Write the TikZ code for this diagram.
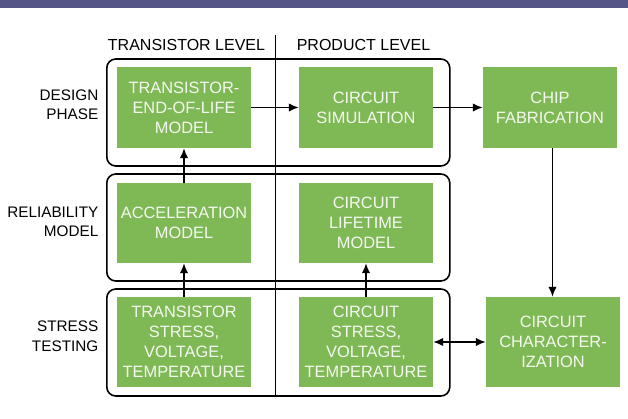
\documentclass[tikz,border=0pt]{standalone}
\usepackage{fontspec}
\setmainfont{Liberation Sans}
\usetikzlibrary{arrows.meta}
\definecolor{band}{RGB}{83,86,135}
\definecolor{boxgreen}{RGB}{127,185,86}
\definecolor{boxtext}{RGB}{245,248,240}
\tikzset{
  greenbox/.style={fill=boxgreen, draw=none, minimum width=134pt, text width=132pt, align=center, inner sep=0pt, text=boxtext, font=\fontsize{16.4}{20}\selectfont},
  groupbox/.style={draw=black, line width=1.6pt, rounded corners=9pt, minimum width=343pt, minimum height=107pt, inner sep=0pt},
  rowlabel/.style={anchor=east, align=right, font=\fontsize{15.3}{19.5}\selectfont, inner sep=0pt},
  header/.style={font=\fontsize{16}{19}\selectfont, inner sep=0pt},
  arr/.style={line width=1.6pt, -{Latex[length=10pt,width=8.5pt]}},
  darr/.style={line width=1.6pt, {Latex[length=10pt,width=8.5pt]}-{Latex[length=10pt,width=8.5pt]}},
}
\begin{document}
\begin{tikzpicture}[x=1pt, y=-1pt]
\useasboundingbox (0,0) rectangle (628,419);
\fill[band] (0,0) rectangle (628,8.5);
% group boxes
\node[groupbox] (g1) at (278.3,112.5) {};
\node[groupbox] (g2) at (278.3,227.5) {};
\node[groupbox] (g3) at (278.3,342.5) {};
% divider
\coordinate (dtop) at (275.5,35);
\coordinate (dbot) at (275.5,396);
\draw[line width=1.6pt] (dtop) -- (dbot);
% headers
\node[header] (h1) at (186.5,45) {TRANSISTOR LEVEL};
\node[header] (h2) at (363.5,45) {PRODUCT LEVEL};
% row labels
\node[rowlabel] (l1) at (98.5,104.5) {DESIGN\\PHASE};
\node[rowlabel] (l2) at (98.5,221.7) {RELIABILITY\\MODEL};
\node[rowlabel] (l3) at (98.5,336) {STRESS\\TESTING};
% green boxes
\node[greenbox, minimum height=81pt] (eol) at (184,107.5) {TRANSISTOR-\\END-OF-LIFE\\MODEL};
\node[greenbox, minimum height=81pt] (sim) at (366,107.5) {CIRCUIT\\SIMULATION};
\node[greenbox, minimum height=81pt] (chip) at (550,107.5) {CHIP\\FABRICATION};
\node[greenbox, minimum height=80pt] (acc) at (184,223) {ACCELERATION\\MODEL};
\node[greenbox, minimum height=80pt] (life) at (366,223) {CIRCUIT\\LIFETIME\\MODEL};
\node[greenbox, minimum height=90pt] (tst) at (184,342) {TRANSISTOR\\STRESS,\\VOLTAGE,\\TEMPERATURE};
\node[greenbox, minimum height=90pt] (cst) at (366,342) {CIRCUIT\\STRESS,\\VOLTAGE,\\TEMPERATURE};
\node[greenbox, minimum height=90pt] (char) at (553,342) {CIRCUIT\\CHARACTER-\\IZATION};
% arrows
\draw[arr] (eol) -- (sim);
\draw[arr] (sim) -- (chip);
\draw[arr] (tst) -- (acc);
\draw[arr] (acc) -- (eol);
\draw[arr] (cst) -- (life);
\draw[arr] ([xshift=2.5pt]chip.south) -- ([xshift=-0.5pt]char.north);
\draw[darr] (cst) -- (char);
\end{tikzpicture}
\end{document}
